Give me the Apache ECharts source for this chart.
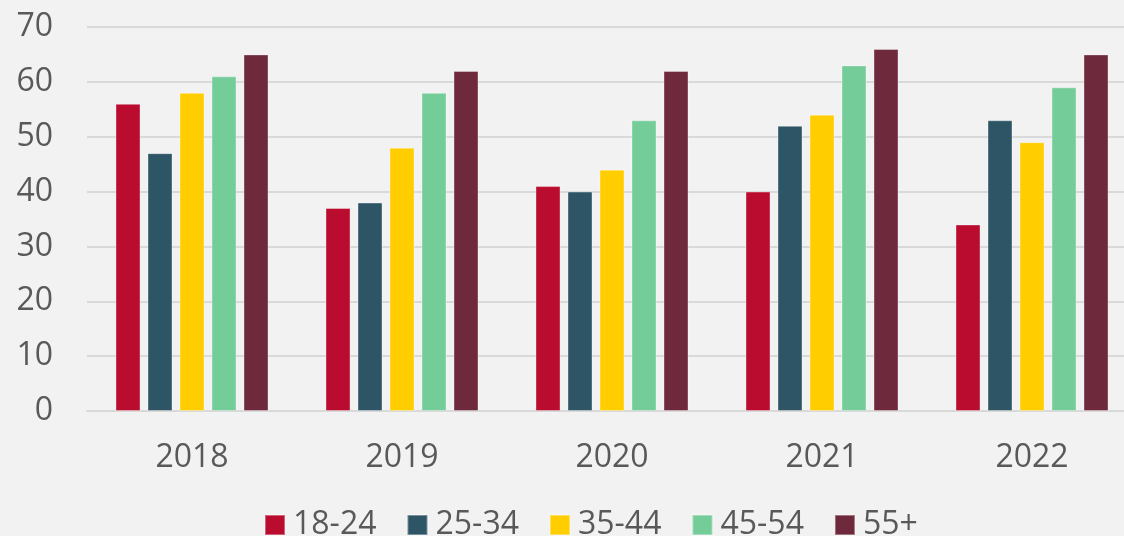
<!DOCTYPE html>
<html>
<head>
<meta charset="utf-8">
<script src="https://cdn.jsdelivr.net/npm/echarts@6/dist/echarts.min.js"></script>
<style>
html,body{margin:0;padding:0;background:#f2f2f2;}
#c{width:1124px;height:536px;}
</style>
</head>
<body>
<div id="c"></div>
<script>
const years = ['2018', '2019', '2020', '2021', '2022'];
const seriesNames = ['18-24', '25-34', '35-44', '45-54', '55+'];
const v18_24 = [56, 37, 41, 40, 34];
const v25_34 = [47, 38, 40, 52, 53];
const v35_44 = [58, 48, 44, 54, 49];
const v45_54 = [61, 58, 53, 63, 59];
const v55p   = [65, 62, 62, 66, 65];
const colors = ['#BA0C2F', '#2E5566', '#FFCD00', '#74CC98', '#6E2A3C'];
const allValues = [v18_24, v25_34, v35_44, v45_54, v55p];

const font = '"Open Sans", "Noto Sans", sans-serif';
const chart = echarts.init(document.getElementById('c'));
chart.setOption({
  backgroundColor: '#f2f2f2',
  animation: false,
  textStyle: { fontFamily: font },
  grid: { left: 87, top: 27, width: 1050, bottom: 125, containLabel: false, outerBoundsMode: 'none' },
  legend: {
    left: 264, top: 509, padding: 0,
    itemWidth: 20, itemHeight: 20, itemGap: 30,
    icon: 'rect',
    textStyle: { fontSize: 32, color: '#595959', fontFamily: font, padding: [0, 0, 0, 3] },
    data: seriesNames
  },
  xAxis: {
    type: 'category',
    data: years,
    axisLine: { show: true, lineStyle: { color: '#d9d9d9', width: 2 } },
    axisTick: { show: false },
    axisLabel: { fontSize: 32, color: '#595959', margin: 31, fontFamily: font }
  },
  yAxis: {
    type: 'value',
    min: 0, max: 70, interval: 10,
    axisLine: { show: false },
    axisTick: { show: false },
    splitLine: { lineStyle: { color: '#d9d9d9', width: 2 } },
    axisLabel: { fontSize: 32, color: '#595959', margin: 34, fontFamily: font }
  },
  series: seriesNames.map((n, i) => ({
    name: n,
    type: 'bar',
    data: allValues[i],
    barWidth: 25,
    barGap: '28%',
    barCategoryGap: '27%',
    itemStyle: { color: colors[i], borderColor: 'rgba(255,255,255,0.35)', borderWidth: 1 }
  }))
});
</script>
</body>
</html>
